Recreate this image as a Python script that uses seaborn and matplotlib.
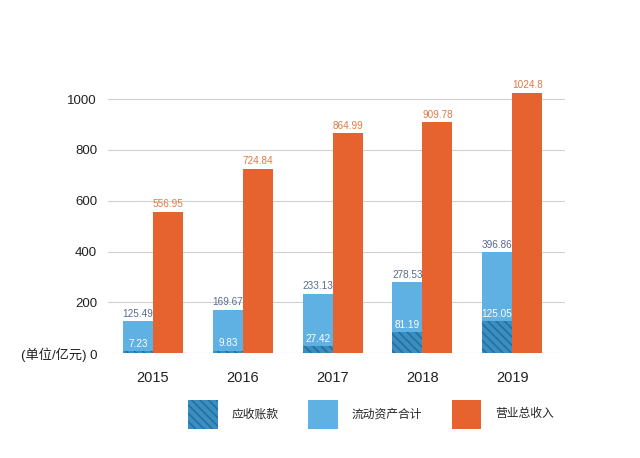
import pandas as pd
import seaborn as sns
import matplotlib.pyplot as plt
from matplotlib.patches import Patch


# chart data (unit: 亿元)
years = ['2015', '2016', '2017', '2018', '2019']
receivables = [7.23, 9.83, 27.42, 81.19, 125.05]        # 应收账款
current_assets = [125.49, 169.67, 233.13, 278.53, 396.86]  # 流动资产合计
revenue = [556.95, 724.84, 864.99, 909.78, 1024.8]       # 营业总收入
series_names = ['应收账款', '流动资产合计', '营业总收入']

c_recv = '#3a8fc2'
c_assets = '#5fb0e3'
c_rev = '#e6622e'

df = pd.DataFrame({
    'year': years * 2,
    'value': current_assets + revenue,
    'series': [series_names[1]] * 5 + [series_names[2]] * 5,
})

sns.set_style("white")
plt.rcParams['font.family'] = ['Liberation Sans', 'Noto Sans CJK SC', 'DejaVu Sans']
plt.rcParams['hatch.linewidth'] = 1.2

fig = plt.figure(figsize=(6.4, 4.58), dpi=100)
ax = fig.add_axes([0.169, 0.229, 0.714, 0.61])

sns.barplot(data=df, x='year', y='value', hue='series',
            hue_order=series_names[1:], palette=[c_assets, c_rev],
            width=0.67, dodge=True, saturation=1, legend=False,
            linewidth=0, edgecolor='none', ax=ax)

# receivables drawn inside the current-assets bars
asset_bars = ax.containers[0]
rev_bars = ax.containers[1]
xs = [p.get_x() for p in asset_bars.patches]
w = asset_bars.patches[0].get_width()
ax.bar(xs, receivables, width=w, align='edge', color=c_recv,
       edgecolor='#2a6e9c', hatch='\\\\\\\\', linewidth=0)

# value labels
for p, v in zip(asset_bars.patches, current_assets):
    ax.text(p.get_x() + w / 2, v + 10, f'{v:g}', ha='center', va='bottom',
            fontsize=7.2, color='#5b6a8e')
for x, v in zip(xs, receivables):
    ax.text(x + w / 2, v + 10, f'{v:g}', ha='center', va='bottom',
            fontsize=7.2, color='white')
for p, v in zip(rev_bars.patches, revenue):
    ax.text(p.get_x() + p.get_width() / 2, v + 10, f'{v:g}', ha='center',
            va='bottom', fontsize=7.2, color='#e07a48')

ax.set_ylim(0, 1100)
ax.set_xlim(-0.5, 4.59)
ax.set_yticks([0, 200, 400, 600, 800, 1000])
ax.set_yticklabels(['(单位/亿元) 0', '200', '400', '600', '800', '1000'])
ax.yaxis.grid(True, color='#d0d0d0', linewidth=0.8)
ax.set_axisbelow(True)
for s in ax.spines.values():
    s.set_visible(False)
ax.tick_params(axis='y', length=0, labelsize=9.5, pad=8, colors='#222222')
ax.tick_params(axis='x', length=5, width=0.8, color='#b0b0b0',
               labelsize=10.5, pad=8, labelcolor='#222222')
ax.set_xlabel('')
ax.set_ylabel('')

handles = [
    Patch(facecolor=c_recv, edgecolor='#2a6e9c', hatch='\\\\\\\\', linewidth=0),
    Patch(facecolor=c_assets, linewidth=0),
    Patch(facecolor=c_rev, linewidth=0),
]
fig.legend(handles, series_names, loc='center', bbox_to_anchor=(0.58, 0.096),
           ncol=3, frameon=False, fontsize=8.5, handlelength=2.5,
           handleheight=3.4, handletextpad=1.2, columnspacing=2.5)

plt.savefig('out.png', dpi=100)
plt.close()
